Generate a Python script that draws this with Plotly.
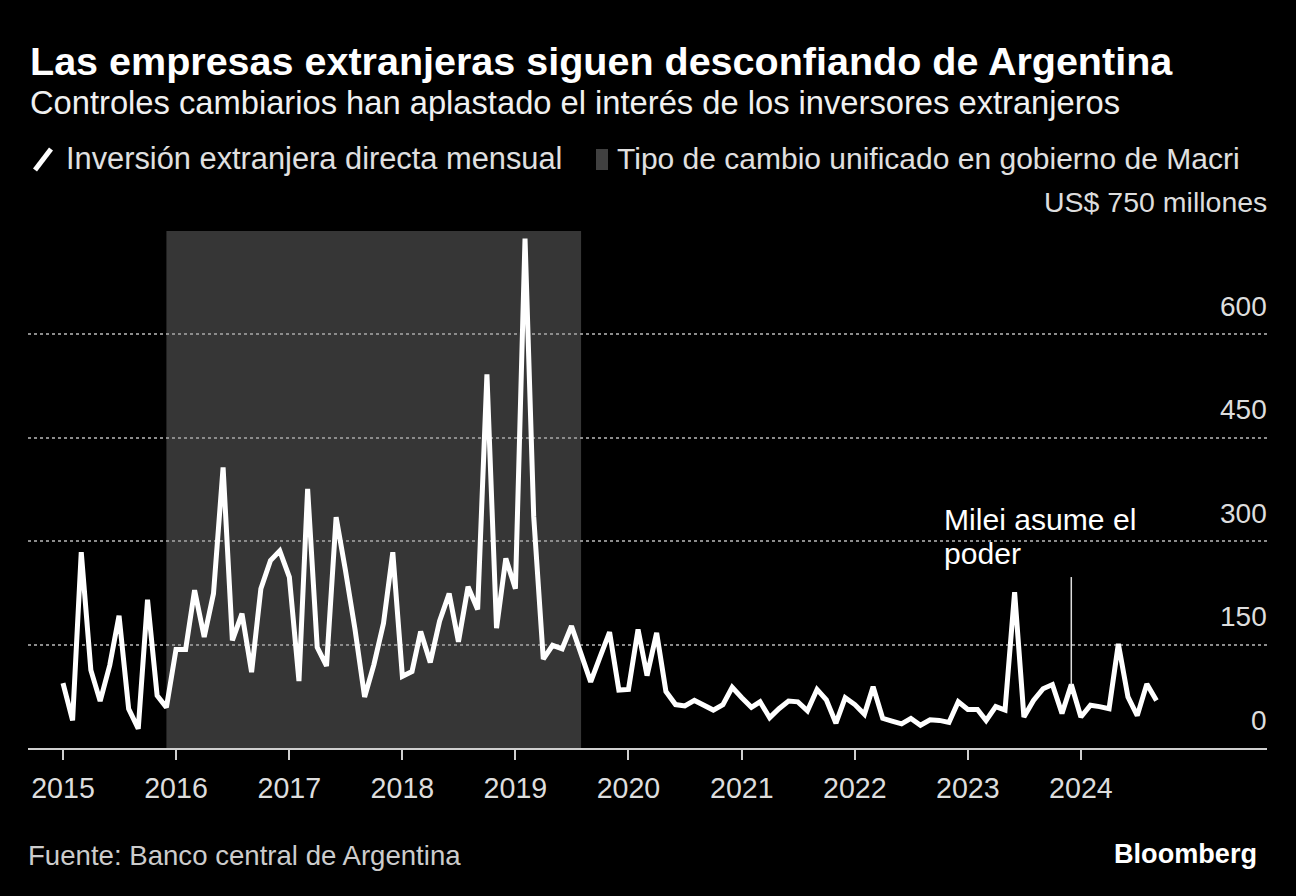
import plotly.graph_objects as go
import pandas as pd

# ---- data (monthly FDI, US$ millions) ----
start_month = "2015-01-01"
fdi_2015 = [94, 40, 284, 113, 68, 120, 192, 57, 28, 215, 76, 59]
fdi_2016 = [143, 143, 229, 161, 224, 407, 156, 195, 110, 231, 272, 286]
fdi_2017 = [248, 97, 376, 146, 119, 335, 258, 172, 74, 121, 181, 284]
fdi_2018 = [104, 111, 169, 124, 184, 224, 154, 234, 201, 542, 174, 275]
fdi_2019 = [231, 739, 336, 129, 149, 144, 177, 135, 96, 132, 168, 84]
fdi_2020 = [85, 172, 105, 167, 82, 63, 61, 69, 61, 55, 63, 88]
fdi_2021 = [73, 59, 67, 44, 57, 68, 67, 54, 85, 70, 36, 73]
fdi_2022 = [63, 49, 89, 43, 39, 35, 43, 33, 41, 40, 37, 67]
fdi_2023 = [56, 56, 40, 60, 55, 226, 45, 69, 86, 92, 50, 92]
fdi_2024 = [45, 62, 60, 57, 151, 74, 47, 93, 69]

fdi_values = (fdi_2015 + fdi_2016 + fdi_2017 + fdi_2018 + fdi_2019 +
              fdi_2020 + fdi_2021 + fdi_2022 + fdi_2023 + fdi_2024)
months = pd.date_range(start_month, periods=len(fdi_values), freq="MS")

year_ticks = ["2015", "2016", "2017", "2018", "2019", "2020", "2021", "2022", "2023", "2024"]
y_ticks = [0, 150, 300, 450, 600]
y_top = 750
y_top_label = "US$ 750 millones"

macri_start = "2015-12-01"
macri_end = "2019-08-01"
milei_date = "2023-12-01"
milei_label_top = 248

title = "Las empresas extranjeras siguen desconfiando de Argentina"
subtitle = "Controles cambiarios han aplastado el interés de los inversores extranjeros"
legend_line = "Inversión extranjera directa mensual"
legend_area = "Tipo de cambio unificado en gobierno de Macri"
milei_lines = ["Milei asume el", "poder"]
source = "Fuente: Banco central de Argentina"

# ---- geometry helpers ----
W, H = 1296, 896
ML, MR, MT, MB = 28, 29, 231, 148
PW = W - ML - MR
PH = H - MT - MB


def px(p):
    return (p - ML) / PW


def py(p):
    return (H - MB - p) / PH


FONT = "Liberation Sans, Arial, sans-serif"


def text(s, x, y, size, color, xanchor="left", bold=False):
    return dict(text=("<b>" + s + "</b>") if bold else s,
                xref="paper", yref="paper", x=px(x), y=py(y),
                xanchor=xanchor, yanchor="middle", showarrow=False, borderpad=0,
                font=dict(family=FONT, size=size, color=color))


fig = go.Figure()

fig.add_trace(go.Scatter(
    x=months, y=fdi_values, mode="lines",
    line=dict(color="white", width=5),
    hoverinfo="skip", showlegend=False,
))

shapes = [
    dict(type="rect", xref="x", yref="paper", x0=macri_start, x1=macri_end,
         y0=0, y1=1, fillcolor="#363636", line=dict(width=0), layer="below"),
    dict(type="line", xref="x", yref="y", x0=milei_date, x1=milei_date,
         y0=fdi_values[list(months).index(pd.Timestamp(milei_date))], y1=milei_label_top,
         line=dict(color="#dddddd", width=1.5)),
    # legend icons
    dict(type="line", xref="paper", yref="paper", x0=px(35), y0=py(170), x1=px(51), y1=py(149),
         line=dict(color="white", width=5)),
    dict(type="rect", xref="paper", yref="paper", x0=px(596), y0=py(170), x1=px(608), y1=py(149),
         fillcolor="#404040", line=dict(width=0)),
]

ann = [
    text(title, 29, 61.3, 39.5, "white", bold=True),
    text(subtitle, 29, 102.2, 32.7, "#f0f0f0"),
    text(legend_line, 65, 158, 30.8, "#e0e0e0"),
    text(legend_area, 616, 158, 30, "#e0e0e0"),
    text(milei_lines[0], 943, 519, 30.1, "white"),
    text(milei_lines[1], 943, 553.2, 30.1, "white"),
    text(source, 27, 855, 27.6, "#cccccc"),
    text("Bloomberg", 1258, 853, 27.1, "white", xanchor="right", bold=True),
]
for v in y_ticks:
    ann.append(dict(text=str(v), xref="paper", yref="y", x=1, y=v, yshift=28, xshift=1,
                    xanchor="right", yanchor="middle", showarrow=False, borderpad=0,
                    font=dict(family=FONT, size=28, color="#dddddd")))
ann.append(dict(text=y_top_label, xref="paper", yref="y", x=1, y=y_top, yshift=29, xshift=1,
                xanchor="right", yanchor="middle", showarrow=False, borderpad=0,
                font=dict(family=FONT, size=28.5, color="#dddddd")))

fig.update_layout(
    width=W, height=H,
    margin=dict(l=ML, r=MR, t=MT, b=MB, pad=0),
    paper_bgcolor="black", plot_bgcolor="black",
    shapes=shapes, annotations=ann,
    showlegend=False,
    font=dict(family=FONT, color="#dddddd"),
)

fig.update_xaxes(
    type="date", range=["2014-09-10", "2025-08-24"],
    tickvals=[f"{y}-01-01" for y in year_ticks], ticktext=year_ticks,
    showgrid=False, zeroline=False,
    showline=True, linecolor="#cfcfcf", linewidth=2,
    ticks="outside", ticklen=10, tickwidth=1.5, tickcolor="#cfcfcf",
    ticklabelstandoff=4,
    tickfont=dict(family=FONT, size=28.6, color="#dddddd"),
    fixedrange=True,
)
fig.update_yaxes(
    range=[0, y_top], tickvals=y_ticks[1:] + [y_top],
    showticklabels=False, showgrid=True, gridcolor="#8c8c8c", gridwidth=1.5,
    griddash="3px,3px", zeroline=False, showline=False, ticks="",
    fixedrange=True,
)

fig.write_html(
    "out.html",
    config={"displayModeBar": False},
    post_script="document.body.style.margin='0';document.body.style.background='black';",
)
